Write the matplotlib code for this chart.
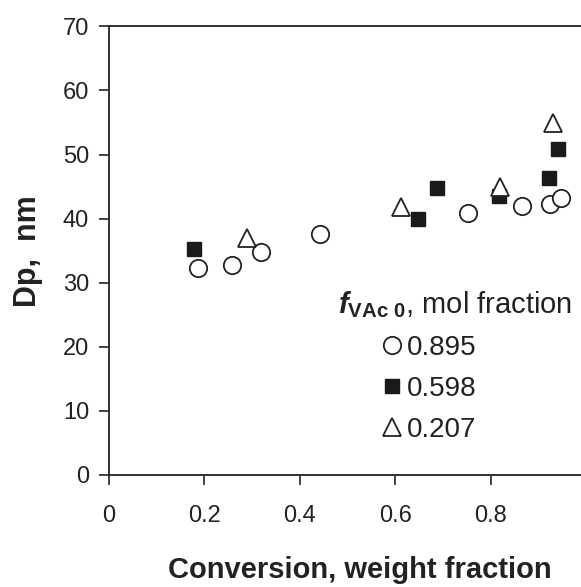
import matplotlib.pyplot as plt

plt.rcParams['font.family'] = ['Liberation Sans', 'DejaVu Sans']
plt.rcParams['mathtext.fontset'] = 'custom'
plt.rcParams['mathtext.rm'] = 'Liberation Sans'
plt.rcParams['mathtext.it'] = 'Liberation Sans:italic'
plt.rcParams['mathtext.bf'] = 'Liberation Sans:bold'
plt.rcParams['mathtext.bfit'] = 'Liberation Sans:bold:italic'

# fVAc0 = 0.895 (open circles)
conv_895 = [0.188, 0.258, 0.318, 0.442, 0.753, 0.865, 0.924, 0.947]
dp_895 = [32.3, 32.7, 34.8, 37.6, 40.9, 41.9, 42.3, 43.2]

# fVAc0 = 0.598 (filled squares)
conv_598 = [0.179, 0.648, 0.688, 0.818, 0.921, 0.940]
dp_598 = [35.2, 40.0, 44.8, 43.5, 46.4, 50.8]

# fVAc0 = 0.207 (open triangles)
conv_207 = [0.290, 0.612, 0.819, 0.931]
dp_207 = [37.0, 41.8, 45.0, 55.0]

labels = ['0.895', '0.598', '0.207']

fig = plt.figure(figsize=(5.81, 5.87), dpi=100)
ax = fig.add_axes([0.187, 0.191, 0.822, 0.764])

h1, = ax.plot(conv_895, dp_895, 'o', ms=12.5, mfc='white', mec='#222222', mew=1.3, ls='none')
h2, = ax.plot(conv_598, dp_598, 's', ms=9.5, mfc='#1a1a1a', mec='#1a1a1a', ls='none')
h3, = ax.plot(conv_207, dp_207, '^', ms=13.5, mfc='white', mec='#222222', mew=1.3, ls='none')

ax.set_xlim(0, 1.0)
ax.set_ylim(0, 70)
ax.set_xticks([0, 0.2, 0.4, 0.6, 0.8])
ax.set_xticklabels(['0', '0.2', '0.4', '0.6', '0.8'])
ax.set_yticks(range(0, 71, 10))
ax.tick_params(direction='out', length=7, width=1.2, labelsize=17, colors='#222222', pad=7)
ax.tick_params(axis='x', pad=15)
for s in ax.spines.values():
    s.set_linewidth(1.3)
    s.set_color('#222222')

ax.set_xlabel('Conversion, weight fraction', fontsize=21, fontweight='bold', color='#222222')
ax.set_ylabel('Dp,  nm', fontsize=22, fontweight='bold', color='#222222')
ax.xaxis.set_label_coords(0.5265, -0.18)
ax.yaxis.set_label_coords(-0.138, 0.5)

ax.text(0.480, 0.3616, r'$\mathbfit{f}_{\mathbf{VAc\ 0}}$, mol fraction', transform=ax.transAxes,
        fontsize=21, color='#222222', va='baseline', ha='left')
leg = ax.legend([h1, h2, h3], labels, loc='upper left', bbox_to_anchor=(0.573, 0.313),
                frameon=False, fontsize=20, handlelength=0.7, handletextpad=0.2,
                labelspacing=0.55, borderaxespad=0, borderpad=0, markerscale=1.0)
for t in leg.get_texts():
    t.set_color('#222222')

fig.savefig('out.png', dpi=100)
